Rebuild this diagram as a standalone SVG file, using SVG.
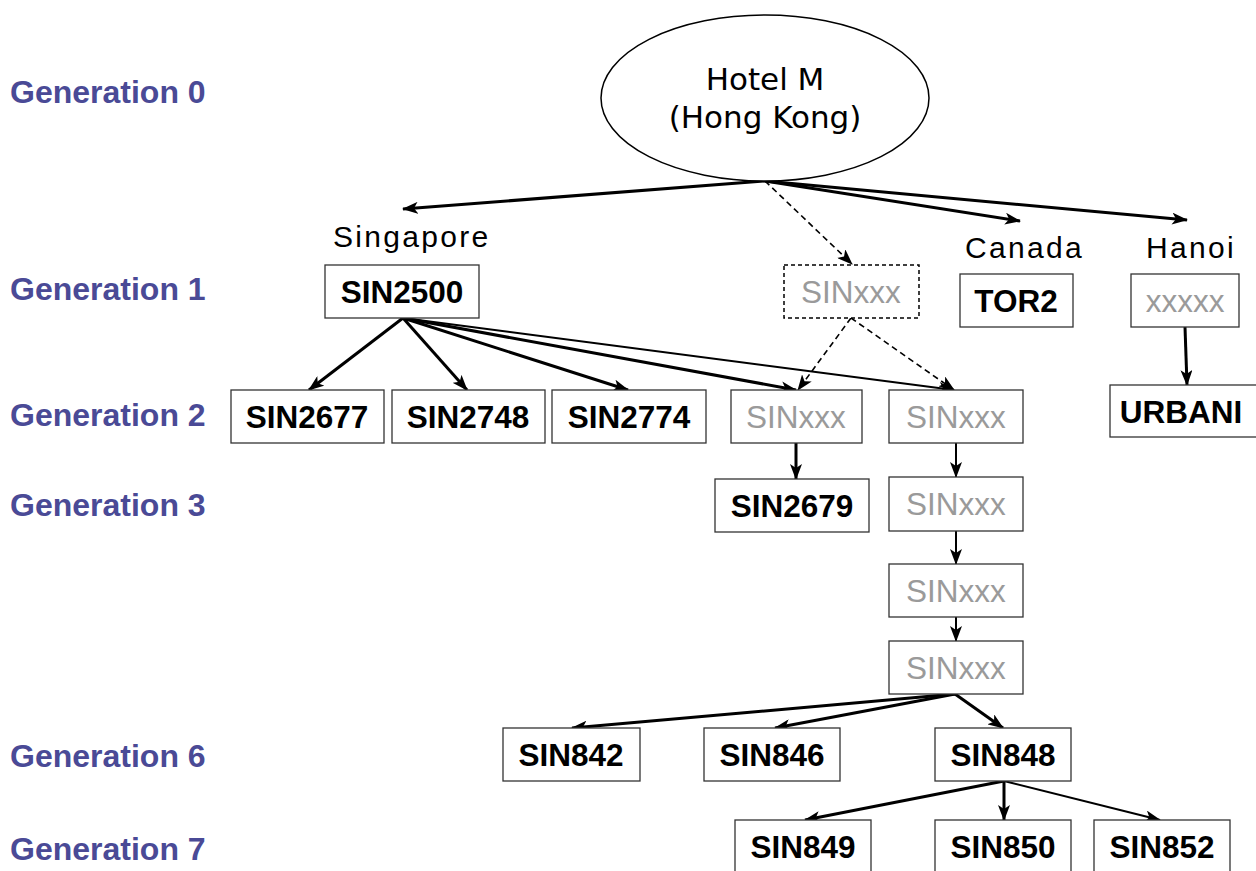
<svg xmlns="http://www.w3.org/2000/svg" width="1256" height="871" viewBox="0 0 1256 871">
<defs>
<marker id="ah" viewBox="0 0 16 12" refX="15" refY="6" markerWidth="16" markerHeight="12" markerUnits="userSpaceOnUse" orient="auto">
<path d="M0,0 L16,6 L0,12 L4,6 Z" fill="#000"/>
</marker>
</defs>
<style>
.gen{font-family:"Liberation Sans",Arial,sans-serif;font-weight:bold;font-size:32px;fill:#4a4a96}
.box{fill:#fff;stroke:#333;stroke-width:1.3}
.dbox{fill:#fff;stroke:#000;stroke-width:1.5;stroke-dasharray:4 3}
.b{font-family:"Liberation Sans",Arial,sans-serif;font-weight:bold;font-size:31.5px;fill:#000;text-anchor:middle}
.g{font-family:"Liberation Sans",Arial,sans-serif;font-size:31.5px;fill:#9a9a9a;text-anchor:middle}
.lbl{font-family:"Liberation Sans",Arial,sans-serif;font-size:30px;fill:#000;letter-spacing:2.3px}
.hk{font-family:"Comic Sans MS","DejaVu Sans",sans-serif;font-size:31px;fill:#000;text-anchor:middle}
.c3{stroke:#000;stroke-width:3;fill:none;marker-end:url(#ah)}
.c2{stroke:#000;stroke-width:2;fill:none;marker-end:url(#ah)}
.cd{stroke:#000;stroke-width:1.6;fill:none;stroke-dasharray:6 4;marker-end:url(#ah)}
</style>
<rect width="1256" height="871" fill="#fff"/>
<g id="labels">
<text class="gen" x="10" y="103">Generation 0</text>
<text class="gen" x="10" y="300">Generation 1</text>
<text class="gen" x="10" y="426">Generation 2</text>
<text class="gen" x="10" y="516">Generation 3</text>
<text class="gen" x="10" y="767">Generation 6</text>
<text class="gen" x="10" y="860">Generation 7</text>
<text class="lbl" x="333" y="247">Singapore</text>
<text class="lbl" x="965" y="258">Canada</text>
<text class="lbl" x="1146" y="258">Hanoi</text>
</g>
<g id="connectors">
<line class="c3" x1="765" y1="181" x2="403" y2="209"/>
<line class="cd" x1="765" y1="181" x2="852" y2="264"/>
<line class="c3" x1="765" y1="181" x2="1020" y2="221"/>
<line class="c3" x1="765" y1="181" x2="1187" y2="220"/>
<line class="c3" x1="403" y1="318" x2="309" y2="390"/>
<line class="c3" x1="403" y1="318" x2="467" y2="390"/>
<line class="c3" x1="403" y1="318" x2="628" y2="390"/>
<line class="c3" x1="403" y1="318" x2="796" y2="390"/>
<line class="c2" x1="403" y1="318" x2="954" y2="390"/>
<line class="cd" x1="851" y1="318" x2="798" y2="390"/>
<line class="cd" x1="851" y1="318" x2="954" y2="390"/>
<line class="c3" x1="1185" y1="327" x2="1187" y2="385"/>
<line class="c3" x1="796" y1="443" x2="796" y2="479"/>
<line class="c2" x1="956" y1="443" x2="956" y2="477"/>
<line class="c2" x1="956" y1="531" x2="956" y2="564"/>
<line class="c2" x1="956" y1="617" x2="956" y2="641"/>
<line class="c3" x1="955" y1="694" x2="572" y2="728"/>
<line class="c3" x1="955" y1="694" x2="775" y2="728"/>
<line class="c3" x1="955" y1="694" x2="1003" y2="728"/>
<line class="c3" x1="1004" y1="781" x2="805" y2="820"/>
<line class="c3" x1="1004" y1="781" x2="1004" y2="820"/>
<line class="c2" x1="1004" y1="781" x2="1160" y2="820"/>
</g>
<g id="hotelm">
<ellipse cx="765" cy="98" rx="164" ry="83" fill="#fff" stroke="#000" stroke-width="1.5"/>
<text class="hk" x="765" y="90">Hotel M</text>
<text class="hk" x="765" y="128">(Hong Kong)</text>
</g>
<g id="sin2500"><rect class="box" x="325" y="265" width="154" height="53"/><text class="b" x="402" y="303">SIN2500</text></g>
<g id="sinxxx1"><rect class="dbox" x="784" y="265" width="135" height="53"/><text class="g" x="851" y="303">SINxxx</text></g>
<g id="tor2"><rect class="box" x="960" y="274" width="113" height="53"/><text class="b" x="1016" y="312">TOR2</text></g>
<g id="hanoixx"><rect class="box" x="1131" y="274" width="108" height="53"/><text class="g" x="1185" y="312">xxxxx</text></g>
<g id="urbani"><rect class="box" x="1110" y="385" width="150" height="52"/><text class="b" x="1181" y="423">URBANI</text></g>
<g id="sin2677"><rect class="box" x="231" y="390" width="153" height="53"/><text class="b" x="307" y="428">SIN2677</text></g>
<g id="sin2748"><rect class="box" x="392" y="390" width="153" height="53"/><text class="b" x="468" y="428">SIN2748</text></g>
<g id="sin2774"><rect class="box" x="552" y="390" width="154" height="53"/><text class="b" x="629" y="428">SIN2774</text></g>
<g id="sinxxx2a"><rect class="box" x="731" y="390" width="131" height="53"/><text class="g" x="796" y="428">SINxxx</text></g>
<g id="sinxxx2b"><rect class="box" x="889" y="390" width="134" height="53"/><text class="g" x="956" y="428">SINxxx</text></g>
<g id="sin2679"><rect class="box" x="715" y="479" width="154" height="53"/><text class="b" x="792" y="517">SIN2679</text></g>
<g id="sinxxx3"><rect class="box" x="889" y="477" width="134" height="54"/><text class="g" x="956" y="515">SINxxx</text></g>
<g id="sinxxx4"><rect class="box" x="889" y="564" width="134" height="53"/><text class="g" x="956" y="602">SINxxx</text></g>
<g id="sinxxx5"><rect class="box" x="889" y="641" width="134" height="53"/><text class="g" x="956" y="679">SINxxx</text></g>
<g id="sin842"><rect class="box" x="503" y="728" width="137" height="53"/><text class="b" x="571" y="766">SIN842</text></g>
<g id="sin846"><rect class="box" x="704" y="728" width="136" height="53"/><text class="b" x="772" y="766">SIN846</text></g>
<g id="sin848"><rect class="box" x="935" y="728" width="136" height="53"/><text class="b" x="1003" y="766">SIN848</text></g>
<g id="sin849"><rect class="box" x="735" y="820" width="136" height="60"/><text class="b" x="803" y="858">SIN849</text></g>
<g id="sin850"><rect class="box" x="935" y="820" width="136" height="60"/><text class="b" x="1003" y="858">SIN850</text></g>
<g id="sin852"><rect class="box" x="1094" y="820" width="136" height="60"/><text class="b" x="1162" y="858">SIN852</text></g>
</svg>
